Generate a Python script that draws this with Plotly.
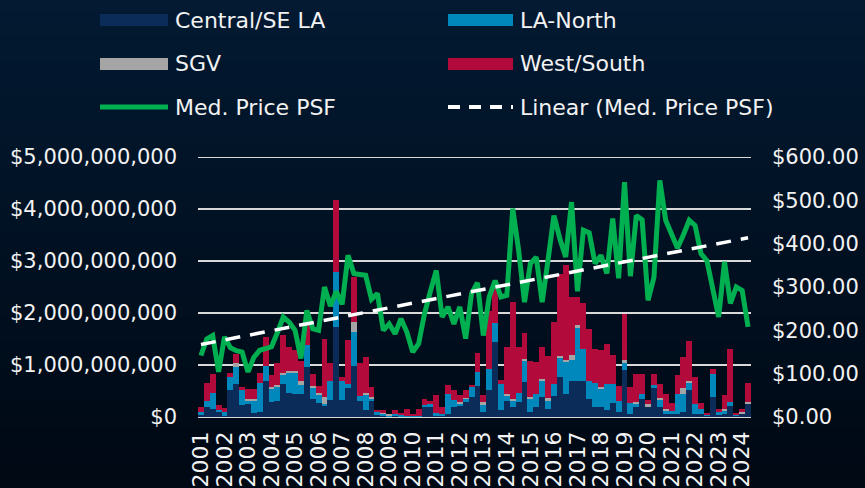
import numpy as np
import plotly.graph_objects as go

# ---------------- data ----------------
years = [str(y) for y in range(2001, 2025)]
quarters = [f"{y} Q{q}" for y in range(2001, 2025) for q in range(1, 5)][:94]

# sales volume by region, in $ billions
central = [0.04,0.19,0.16,0.10,0.02,0.51,0.64,0.24,0.25,0.08,0.10,0.70,0.29,0.30,0.64,0.47,
           0.45,0.45,0.96,0.35,0.26,0.22,0.32,1.73,0.32,0.56,0.99,0.30,0.14,0.32,0.03,0.02,
           0.01,0.01,0.01,0.01,0.00,0.00,0.21,0.19,0.02,0.02,0.06,0.19,0.22,0.29,0.38,0.60,
           0.10,0.51,1.44,0.14,0.30,0.20,0.28,0.67,0.09,0.20,0.38,0.15,0.41,0.76,0.45,0.70,
           0.70,0.70,0.35,0.20,0.20,0.13,0.26,0.10,0.90,0.06,0.20,0.35,0.20,0.55,0.20,0.06,
           0.06,0.06,0.10,0.51,0.06,0.05,0.02,0.38,0.03,0.06,0.22,0.02,0.06,0.26]
north = [0.06,0.12,0.31,0.04,0.07,0.26,0.32,0.27,0.07,0.24,0.56,0.29,0.26,0.28,0.18,0.38,
         0.40,0.17,0.42,0.22,0.18,0.03,0.37,1.06,0.38,0.08,0.65,0.10,0.29,0.03,0.06,0.05,
         0.01,0.04,0.03,0.01,0.01,0.01,0.02,0.06,0.05,0.03,0.39,0.13,0.03,0.06,0.19,0.26,
         0.14,0.42,0.37,0.50,0.10,0.10,0.19,0.40,0.27,0.25,0.32,0.16,0.22,0.38,0.60,0.40,
         1.01,0.60,0.35,0.45,0.35,0.50,0.38,0.20,0.14,0.20,0.05,0.10,0.00,0.06,0.14,0.06,
         0.06,0.38,0.35,0.16,0.19,0.10,0.02,0.44,0.06,0.06,0.06,0.02,0.00,0.00]
sgv = [0.00,0.00,0.00,0.00,0.00,0.00,0.08,0.00,0.03,0.03,0.00,0.00,0.02,0.03,0.03,0.04,
       0.04,0.08,0.00,0.03,0.03,0.14,0.00,0.00,0.00,0.00,0.19,0.00,0.03,0.03,0.00,0.01,
       0.02,0.00,0.00,0.00,0.00,0.00,0.00,0.00,0.00,0.00,0.00,0.00,0.03,0.02,0.00,0.00,
       0.04,0.00,0.00,0.00,0.04,0.04,0.00,0.04,0.03,0.00,0.03,0.06,0.00,0.04,0.05,0.10,
       0.05,0.00,0.00,0.00,0.03,0.00,0.00,0.00,0.06,0.00,0.04,0.00,0.05,0.00,0.03,0.03,
       0.00,0.00,0.10,0.03,0.00,0.00,0.00,0.00,0.00,0.04,0.00,0.00,0.03,0.03]
west = [0.10,0.35,0.35,0.10,0.08,0.08,0.18,0.07,0.19,0.19,0.19,0.55,0.24,0.43,0.73,0.46,
        0.39,0.38,0.45,0.22,0.12,1.11,0.34,1.38,0.07,0.85,0.87,0.63,0.69,0.20,0.04,0.05,
        0.00,0.08,0.04,0.14,0.04,0.15,0.12,0.06,0.36,0.15,0.17,0.19,0.14,0.14,0.05,0.38,
        0.14,1.10,0.72,0.08,0.90,1.88,0.87,0.50,0.69,0.60,0.61,0.81,1.20,1.57,1.82,1.10,
        0.55,0.90,1.00,0.65,0.70,0.77,0.56,0.30,0.88,0.32,0.53,0.37,0.07,0.21,0.27,0.30,
        0.14,0.36,0.60,0.76,0.52,0.11,0.02,0.11,0.07,0.26,1.02,0.02,0.07,0.37]

# median price per square foot, $
med_psf = [142,180,188,104,185,160,153,150,104,138,154,158,162,195,231,219,
           200,135,246,204,200,300,256,290,260,373,331,329,327,272,285,200,
           215,192,227,196,150,169,238,290,338,231,254,215,254,181,285,310,
           188,277,315,277,281,481,385,265,354,369,265,362,465,412,369,496,
           290,431,425,354,373,331,458,320,542,325,465,455,269,322,546,454,
           420,390,420,454,442,377,361,292,231,358,262,300,292,208]

# ---------------- styling ----------------
FONT = "DejaVu Sans"
TXT = "#f2f2f2"
BG = "#011326"
C_CENTRAL = "#0b2b58"
C_NORTH = "#0087bb"
C_SGV = "#a5a5a5"
C_WEST = "#b20a3b"
C_LINE = "#00b050"
C_GRID = "#d9d9d9"

W, H = 865, 488
L, R, T, B = 198, 114, 157, 71
PW, PH = W - L - R, H - T - B

def px(xp):
    return (xp - L) / PW

def py(yp):
    return (H - B - yp) / PH

fig = go.Figure()
scale = 1e9
for name, vals, col in [("Central/SE LA", central, C_CENTRAL), ("LA-North", north, C_NORTH),
                        ("SGV", sgv, C_SGV), ("West/South", west, C_WEST)]:
    fig.add_trace(go.Bar(x=quarters, y=np.array(vals) * scale, name=name,
                         marker=dict(color=col, line=dict(width=0)), showlegend=False))

fig.add_trace(go.Scatter(x=quarters, y=med_psf, name="Med. Price PSF", yaxis="y2",
                         mode="lines", line=dict(color=C_LINE, width=5, shape="linear"),
                         showlegend=False))

# linear trendline of the median price
idx = np.arange(len(med_psf))
slope, intercept = np.polyfit(idx, med_psf, 1)
trend = slope * idx + intercept
fig.add_trace(go.Scatter(x=quarters, y=trend, name="Linear (Med. Price PSF)", yaxis="y2",
                         mode="lines", line=dict(color="white", width=3.5, dash="15px,10px"),
                         showlegend=False))

tickvals = [quarters[i] for i in range(0, len(quarters), 4)]

# background gradient
shapes = []
n = 40
top = np.array([3, 26, 50])
bot = np.array([0, 9, 20])
for k in range(n):
    t = k / (n - 1)
    c = (top * (1 - t) + bot * t).astype(int)
    y0p = H * k / n
    y1p = H * (k + 1) / n + 1
    shapes.append(dict(type="rect", xref="paper", yref="paper", layer="below",
                       x0=px(-2), x1=px(W + 2), y0=py(y1p), y1=py(y0p),
                       fillcolor=f"rgb({c[0]},{c[1]},{c[2]})", line=dict(width=0)))

# top gridline (at the upper edge of the value range)
shapes.append(dict(type="line", xref="paper", yref="y", x0=0, x1=1, y0=5e9, y1=5e9,
                   layer="below", line=dict(color=C_GRID, width=2)))

# custom legend
annotations = []
rows = [20, 64, 107]
entries = [
    ("bar", C_CENTRAL, "Central/SE LA", 100, 168, 0),
    ("bar", C_NORTH, "LA-North", 448, 513, 0),
    ("bar", C_SGV, "SGV", 100, 168, 1),
    ("bar", C_WEST, "West/South", 448, 513, 1),
    ("line", C_LINE, "Med. Price PSF", 100, 168, 2),
    ("dash", "white", "Linear (Med. Price PSF)", 448, 513, 2),
]
for kind, col, label, x0, x1, r in entries:
    yc = rows[r]
    if kind == "bar":
        shapes.append(dict(type="rect", xref="paper", yref="paper", x0=px(x0), x1=px(x1),
                           y0=py(yc + 6), y1=py(yc - 6), fillcolor=col, line=dict(width=0)))
    elif kind == "line":
        shapes.append(dict(type="line", xref="paper", yref="paper", x0=px(x0), x1=px(x1),
                           y0=py(yc), y1=py(yc), line=dict(color=col, width=5)))
    else:
        shapes.append(dict(type="line", xref="paper", yref="paper", x0=px(x0), x1=px(x1),
                           y0=py(yc), y1=py(yc), line=dict(color=col, width=4, dash="12px,9px")))
    annotations.append(dict(xref="paper", yref="paper", x=px(x1 + 5), y=py(yc), text=label,
                            showarrow=False, xanchor="left", yanchor="middle",
                            font=dict(family=FONT, size=22, color=TXT)))

fig.update_layout(
    width=W, height=H,
    margin=dict(l=L, r=R, t=T, b=B, pad=0, autoexpand=False),
    paper_bgcolor=BG, plot_bgcolor="rgba(0,0,0,0)",
    barmode="stack", bargap=0,
    font=dict(family=FONT, size=22, color=TXT),
    shapes=shapes, annotations=annotations,
    xaxis=dict(type="category", tickmode="array", tickvals=tickvals, ticktext=years,
               tickangle=-90, showgrid=False, zeroline=False, showline=False, ticks="",
               automargin=False, ticklabelstandoff=9,
               tickfont=dict(family=FONT, size=22, color=TXT), range=[-0.5, len(quarters) - 0.5]),
    yaxis=dict(range=[0, 5e9], dtick=1e9, tickprefix="$", tickformat=",.0f",
               showgrid=True, gridcolor=C_GRID, gridwidth=2, zeroline=True,
               zerolinecolor=C_GRID, zerolinewidth=2, showline=False, automargin=False,
               ticklabelstandoff=20, tickfont=dict(family=FONT, size=21, color=TXT)),
    yaxis2=dict(range=[0, 600], dtick=100, tickprefix="$", tickformat=".2f",
                overlaying="y", side="right", showgrid=False, zeroline=False,
                showline=False, ticklabelstandoff=20, automargin=False,
                tickfont=dict(family=FONT, size=21, color=TXT)),
    showlegend=False,
)

fig.write_html("out.html",
               config={"displayModeBar": False},
               post_script="document.body.style.margin='0px';"
                           "document.body.style.background='" + BG + "';")
